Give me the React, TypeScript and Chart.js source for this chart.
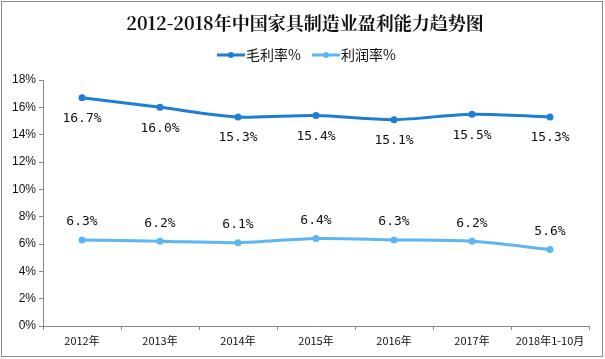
import React, { useEffect, useRef } from "react";
import { Chart, registerables } from "chart.js";

Chart.register(...registerables);

const title = "2012-2018年中国家具制造业盈利能力趋势图";
const categories = ["2012年", "2013年", "2014年", "2015年", "2016年", "2017年", "2018年1-10月"];
const grossMargin = [16.7, 16.0, 15.3, 15.4, 15.1, 15.5, 15.3];
const profitMargin = [6.3, 6.2, 6.1, 6.4, 6.3, 6.2, 5.6];
const seriesNames = ["毛利率%", "利润率%"];
const yTicks = [0, 2, 4, 6, 8, 10, 12, 14, 16, 18];

const DARK = "rgb(31,125,212)";
const LIGHT = "rgb(92,182,242)";

const decorPlugin = {
  id: "decor",
  afterDraw(chart: any) {
    const ctx = chart.ctx;
    ctx.save();
    // border
    ctx.strokeStyle = "#8c8c8c";
    ctx.lineWidth = 1;
    ctx.strokeRect(1.5, 1.5, 601, 355);
    // title
    ctx.fillStyle = "#111";
    ctx.font = "bold 18px 'Noto Serif CJK SC', 'Noto Sans CJK SC', serif";
    ctx.textAlign = "center";
    ctx.textBaseline = "middle";
    ctx.fillText(title, 305, 23);
    // legend
    const items = [
      { x: 217, name: seriesNames[0], color: DARK },
      { x: 312, name: seriesNames[1], color: LIGHT },
    ];
    ctx.font = "14px 'Noto Sans CJK SC', sans-serif";
    ctx.textAlign = "left";
    for (const it of items) {
      ctx.strokeStyle = it.color;
      ctx.lineWidth = 3;
      ctx.beginPath();
      ctx.moveTo(it.x, 55);
      ctx.lineTo(it.x + 28, 55);
      ctx.stroke();
      ctx.fillStyle = it.color;
      ctx.beginPath();
      ctx.arc(it.x + 14, 55, 3, 0, Math.PI * 2);
      ctx.fill();
      ctx.fillStyle = "#111";
      ctx.fillText(it.name, it.x + 29, 55);
    }
    // data labels
    ctx.font = "13px 'DejaVu Sans Mono', monospace";
    ctx.textAlign = "center";
    ctx.fillStyle = "#111";
    chart.data.datasets.forEach((ds: any, di: number) => {
      const meta = chart.getDatasetMeta(di);
      meta.data.forEach((pt: any, i: number) => {
        const v = ds.data[i];
        const txt = v.toFixed(1) + "%";
        const y = di === 0 ? pt.y + 21 : pt.y - 18;
        ctx.fillText(txt, pt.x, y);
      });
    });
    ctx.restore();
  },
};

export default function App() {
  const ref = useRef<HTMLCanvasElement>(null);
  useEffect(() => {
    document.body.style.margin = "0";
    const chart = new Chart(ref.current!, {
      type: "line",
      data: {
        labels: categories,
        datasets: [
          {
            label: seriesNames[0],
            data: grossMargin,
            borderColor: DARK,
            backgroundColor: DARK,
            borderWidth: 3,
            pointRadius: 3.5,
            pointBorderWidth: 0,
            pointHoverRadius: 3.5,
            tension: 0.3,
          },
          {
            label: seriesNames[1],
            data: profitMargin,
            borderColor: LIGHT,
            backgroundColor: LIGHT,
            borderWidth: 3,
            pointRadius: 3.5,
            pointBorderWidth: 0,
            pointHoverRadius: 3.5,
            tension: 0.3,
          },
        ],
      },
      options: {
        responsive: false,
        animation: false,
        layout: { padding: { left: 0, right: 16, top: 80, bottom: 0 } },
        plugins: {
          legend: { display: false },
          title: { display: false },
          tooltip: { enabled: false },
        },
        scales: {
          x: {
            offset: true,
            grid: {
              offset: true,
              drawOnChartArea: false,
              drawTicks: true,
              tickLength: 4,
              color: "#888",
            },
            border: { color: "#888", width: 1 },
            ticks: {
              color: "#111",
              font: { size: 11, family: "'Noto Sans CJK SC', sans-serif" },
              maxRotation: 0,
              autoSkip: false,
              padding: 4,
            },
            afterFit(scale: any) {
              scale.height = 33;
            },
          },
          y: {
            min: 0,
            max: 18,
            afterBuildTicks(scale: any) {
              scale.ticks = yTicks.map((v) => ({ value: v }));
            },
            grid: {
              drawOnChartArea: false,
              drawTicks: true,
              tickLength: 4,
              color: "#888",
            },
            border: { color: "#888", width: 1 },
            ticks: {
              color: "#111",
              font: { size: 12, family: "'Liberation Sans', sans-serif" },
              padding: 3,
              callback: (v: any) => v + "%",
            },
            afterFit(scale: any) {
              scale.width = 43;
            },
          },
        },
      },
      plugins: [decorPlugin],
    });
    return () => chart.destroy();
  }, []);
  return (
    <div style={{ width: 605, height: 359, background: "#fff" }}>
      <canvas ref={ref} width={605} height={359} style={{ display: "block" }} />
    </div>
  );
}
